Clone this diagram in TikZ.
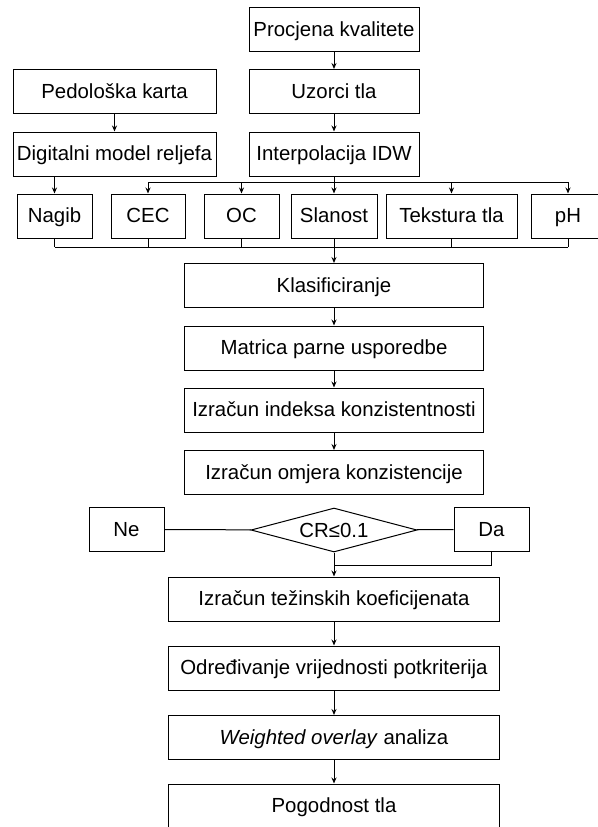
\documentclass[tikz,border=0pt]{standalone}
\usepackage{fontspec}
\setmainfont{Liberation Sans}
\usetikzlibrary{arrows.meta,shapes.geometric}

\begin{document}
\begin{tikzpicture}[
        x=0.5pt, y=-0.5pt,
        font=\fontsize{10.2}{12}\selectfont,
        box/.style={draw, line width=0.5pt, rectangle, inner sep=0pt, text centered, text height=7.2pt, text depth=0.6pt, minimum height=22pt},
        decision/.style={draw, line width=0.5pt, diamond, aspect=3.8, inner sep=0pt, minimum width=83pt, minimum height=22pt},
        ar/.style={-{Stealth[length=3pt, width=2.5pt]}, line width=0.5pt},
        ln/.style={line width=0.5pt},
    ]
    \useasboundingbox (0,0) rectangle (598,827);

    \node[box, minimum width=85pt](proc) at (334,29.5) {Procjena kvalitete};
    \node[box, minimum width=85pt](uzor) at (334,91.5) {Uzorci tla};
    \node[box, minimum width=101.5pt](pedo) at (114.5,91.5) {Pedološka karta};
    \node[box, minimum width=101.5pt](dmr) at (114.5,154) {Digitalni model reljefa};
    \node[box, minimum width=85pt](idw) at (334,154) {Interpolacija IDW};

    \node[box, minimum width=37.5pt](nagib) at (54.5,216) {Nagib};
    \node[box, minimum width=37pt](cec) at (148,216) {CEC};
    \node[box, minimum width=37.5pt](oc) at (241.5,216) {OC};
    \node[box, minimum width=43pt](slan) at (334,216) {Slanost};
    \node[box, minimum width=65.5pt](tekst) at (451.5,216) {Tekstura tla};
    \node[box, minimum width=37pt](ph) at (568,216) {pH};

    \node[box, minimum width=149.5pt](klas) at (334,285.5) {Klasificiranje};
    \node[box, minimum width=149.5pt](matr) at (334,348) {Matrica parne usporedbe};
    \node[box, minimum width=149.5pt](inde) at (334,410) {Izračun indeksa konzistentnosti};
    \node[box, minimum width=149.5pt](omje) at (334,472.5) {Izračun omjera konzistencije};

    \node[box, minimum width=37.5pt](ne) at (126.5,529.5) {Ne};
    \node[decision](cr) at (334,530) {CR≤0.1};
    \node[box, minimum width=37.5pt](da) at (491.5,529.5) {Da};

    \node[box, minimum width=165.5pt](tez) at (334,599) {Izračun težinskih koeficijenata};
    \node[box, minimum width=165.5pt](odr) at (334,668) {Određivanje vrijednosti potkriterija};
    \node[box, minimum width=165.5pt](weig) at (334,737.5) {\textit{Weighted overlay} analiza};
    \node[box, minimum width=165.5pt](pogo) at (334,806) {Pogodnost tla};

    \coordinate (bus) at (334,182);
    \coordinate (merge) at (334,247);
    \coordinate (join) at (334,565);

    \path[ar]
    (proc) edge (uzor)
    (uzor) edge (idw)
    (pedo) edge (dmr)
    (dmr.south -| nagib.north) edge (nagib.north)
    ;

    % razdioba iz interpolacije
    \draw[ln] (idw) -- (bus);
    \draw[ln] (cec |- bus) -- (ph |- bus);
    \foreach \n in {cec,oc,slan,tekst,ph}
        \draw[ar] (\n |- bus) -- (\n);

    % spajanje kriterija
    \foreach \n in {nagib,cec,oc,tekst,ph}
        \draw[ln] (\n) -- (\n |- merge);
    \draw[ln] (nagib |- merge) -- (ph |- merge);
    \draw[ar] (slan) -- (klas);

    \path[ar]
    (klas) edge (matr)
    (matr) edge (inde)
    (inde) edge (omje)
    ;

    \draw[ln] (ne) -- (cr);
    \draw[ln] (cr) -- (da);
    \draw[ar] (cr) -- (tez);
    \draw[ln] (da) -- (da |- join) -- (join);

    \path[ar]
    (tez) edge (odr)
    (odr) edge (weig)
    (weig) edge (pogo)
    ;
\end{tikzpicture}
\end{document}
